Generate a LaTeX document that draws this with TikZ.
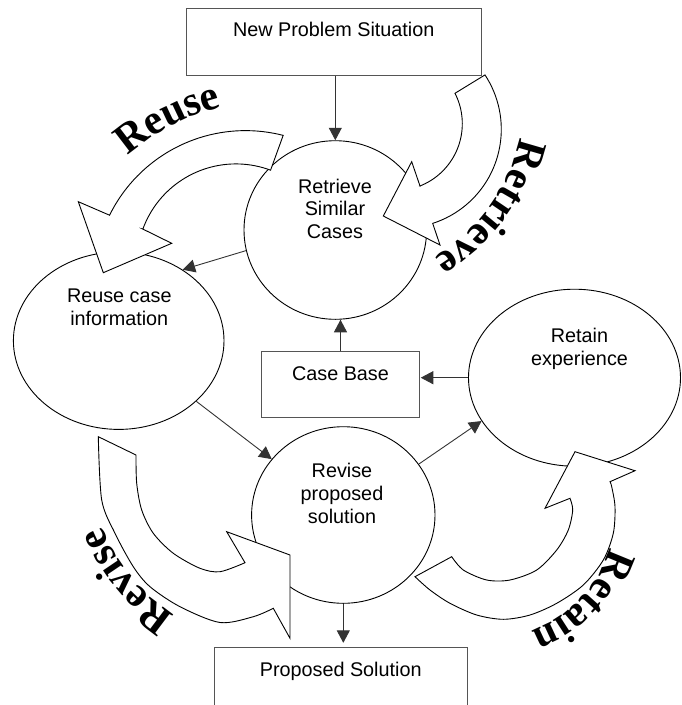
\documentclass[tikz,border=0pt]{standalone}
\usepackage{fontspec}
\setmainfont{Liberation Sans}
\newfontfamily\lblfont{Liberation Serif}
\usetikzlibrary{shapes.geometric,arrows.meta,decorations.text,calc}
\definecolor{boxgray}{RGB}{85,85,85}
\definecolor{arrgray}{RGB}{51,51,51}
\newcommand\lblfmt{\lblfont\bfseries\fontsize{42}{42}\selectfont}
\begin{document}
\begin{tikzpicture}[x=1pt,y=-1pt,
  every node/.style={inner sep=0pt},
  txt/.style={font=\fontsize{19.8}{22.8}\selectfont, align=center, anchor=north},
  boxnode/.style={draw=boxgray, line width=0.9pt, rectangle, font=\fontsize{19.8}{22.8}\selectfont},
  oval/.style={draw=black, line width=0.9pt, ellipse},
  arr/.style={draw=arrgray, line width=0.9pt, -{Triangle[length=12.5pt,width=13pt]}},
  band/.style={draw=black, fill=white, line width=0.9pt, line join=miter},
]
\clip (0,0) rectangle (681,705);

% ovals
\node[oval, minimum width=182.6pt, minimum height=178.6pt] (ret) at (335.3,230) {};
\node[oval, minimum width=210.6pt, minimum height=177.4pt] (reu) at (118.7,340.7) {};
\node[oval, minimum width=212pt, minimum height=177pt] (rta) at (574.5,377.7) {};
\node[oval, minimum width=183.4pt, minimum height=176.6pt] (rev) at (343.3,515) {};

% boxes
\node[boxnode, minimum width=295.3pt, minimum height=66.7pt, text height=27.7pt, text depth=39pt] (np) at (333.7,41.7) {New Problem Situation};
\node[boxnode, minimum width=157.6pt, minimum height=66pt, text height=28.3pt, text depth=37.7pt] (cb) at (340.5,384.7) {Case Base};
\node[boxnode, minimum width=253.3pt, minimum height=66pt, text height=28.3pt, text depth=37.7pt] (ps) at (340.7,680.7) {Proposed Solution};

% texts in ovals
\node[txt] (rett) at (335,178.5) {Retrieve\\Similar\\Cases};
\node[txt] (reut) at (119.3,288.5) {Reuse case\\information};
\node[txt] (rtat) at (579.5,328.3) {Retain\\experience};
\node[txt] (revt) at (342,463.1) {Revise\\proposed\\solution};

% connectors
\draw[arr] (np.south -| ret.north) -- (ret.north);
\draw[arr] (cb.north) -- (cb.north |- ret.south);
\draw[arr] (ret.193) -- (reu.48);
\draw[arr, shorten >=1pt] (rta.west) -- (rta.west -| cb.east);
\draw[arr] (reu.-38.4) -- (rev.142);
\draw[arr] (rev.34.6) -- (rta.205);
\draw[arr, shorten >=4.4pt] (rev.south) -- (rev.south |- ps.north);

% block arrows
% Reuse
\draw[band] plot[domain=-75.6:-153.8, samples=40, variable=\t] ({245.5+151.5*cos(\t)},{282.1+151.5*sin(\t)})
  -- (78.3,201.7) -- (103.3,272.7) -- (171.7,243.3) -- (142.7,229)
  -- plot[domain=-160:-69.5, samples=40, variable=\t] ({235.9+99*cos(\t)},{262.9+99*sin(\t)}) -- cycle;
% Retrieve
\draw[band] plot[domain=-33.4:72.2, samples=40, variable=\t] ({402.5+98.8*cos(\t)},{129.3+98.8*sin(\t)})
  -- (440,245) -- (383.3,216) -- (411.7,161.7) -- (420,186)
  -- plot[domain=68.4:-27, samples=40, variable=\t] ({395.3+67*cos(\t)},{123.7+67*sin(\t)}) -- cycle;
% Revise
\draw[band] (98.3,436.7) -- plot[smooth] coordinates {(136,455) (136.7,483.3) (141.7,510) (153.3,533.3) (173.3,553.3) (200,568.3) (220,571.7) (245,562.7)}
  -- (226.7,531.7) -- (290,555) -- (290,638.3)
  -- plot[smooth] coordinates {(273.3,608.3) (253.3,616.7) (220,622.5) (180,606.7) (150,586.7) (133.3,566.7) (115,533.3) (101.7,500) (98.3,436.7)} -- cycle;
% Retain
\draw[band] (415,576.7) -- plot[smooth] coordinates {(451.7,556.7) (463.3,570) (486.7,580) (510,580) (536.7,570) (556.7,550) (568.3,530) (572.7,510) (570,498.3)}
  -- (545,508.3) -- (575,451.7) -- (635,470.7)
  -- plot[smooth] coordinates {(610,481.7) (611.7,486.7) (615,506.7) (613.3,533.3) (603.3,560) (583.3,585) (556.7,603.3) (530,615) (503.3,619.3) (476.7,615) (450,603.3) (430,590) (415,576.7)} -- cycle;

% big labels
\path[decorate, decoration={text along path, text align=center, text={|\lblfmt|Reuse}}]
  plot[domain=-150:-85, samples=60, variable=\t] ({274.2+221.8*cos(\t)},{322.5+221.8*sin(\t)});
\path[decorate, decoration={text along path, text align=center, text={|\lblfmt|Retrieve}}]
  plot[domain=-5:76, samples=60, variable=\t] ({339.6+184*cos(\t)},{99.8+184*sin(\t)});
\path[decorate, decoration={text along path, text align=center, text={|\lblfmt|Revise}}]
  plot[domain=105:175, samples=60, variable=\t] ({272.4+184*cos(\t)},{458.2+184*sin(\t)});
\path[decorate, decoration={text along path, text align=center, text={|\lblfmt|Retain}}]
  plot[domain=5:81, samples=60, variable=\t] ({491.3+122*cos(\t)},{515.4+122*sin(\t)});
\end{tikzpicture}
\end{document}
